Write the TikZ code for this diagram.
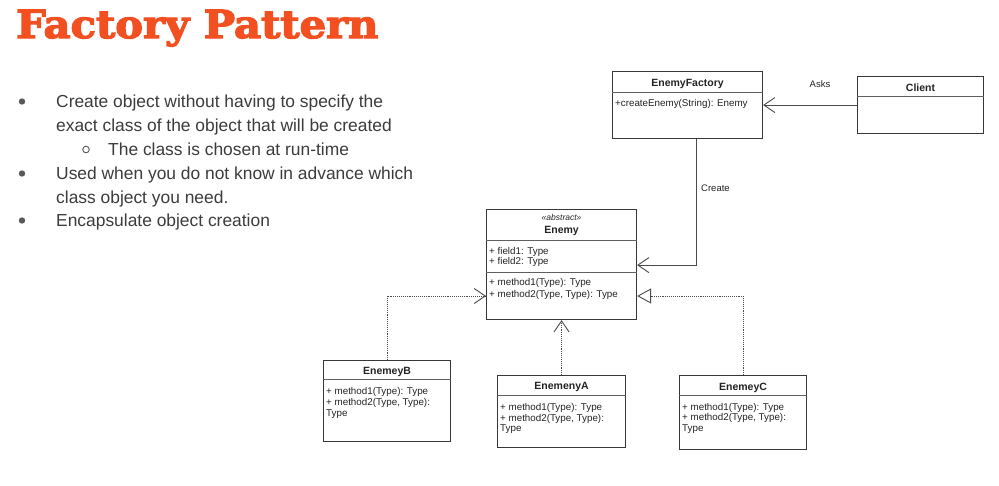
\documentclass[tikz,border=0pt]{standalone}
\usepackage{fontspec}
\setmainfont{Liberation Sans}
\newfontfamily\titlefont{DejaVu Serif}[FakeBold=3.2]
\usetikzlibrary{arrows.meta,calc}

\definecolor{titleorange}{RGB}{243,80,34}
\definecolor{bodytext}{RGB}{60,60,60}
\definecolor{umlline}{RGB}{55,55,55}
\definecolor{umltext}{RGB}{35,35,35}

\tikzset{
  umlbox/.style={draw=umlline, line width=1.1pt, rectangle, inner sep=0pt, anchor=north west},
  umlsep/.style={draw=umlline!80, line width=0.9pt},
  clsname/.style={font=\fontsize{10.5}{12}\selectfont\bfseries, text=umltext, inner sep=0pt, anchor=base},
  member/.style={font=\fontsize{9.8}{11}\selectfont, text=umltext, inner sep=0pt, anchor=base west},
  stereo/.style={font=\fontsize{8.5}{10}\selectfont\itshape, text=umltext, inner sep=0pt, anchor=base},
  linklabel/.style={font=\fontsize{9.5}{11}\selectfont, text=umltext, inner sep=0pt},
  assoc/.style={draw=umlline!90, line width=0.9pt, -{Straight Barb[length=11pt,width=15pt,line width=0.9pt]}},
  realize/.style={draw=umlline!90, line width=0.9pt, densely dotted},
  realizeopen/.style={realize, -{Straight Barb[length=11pt,width=15pt,line width=0.9pt]}},
  realizetri/.style={realize, -{Triangle[open,length=14pt,width=15pt,line width=0.9pt]}},
  bullettext/.style={font=\fontsize{17.4}{20}\selectfont, text=bodytext, inner sep=0pt, anchor=base west},
}

\begin{document}
\begin{tikzpicture}[x=1pt,y=-1pt]
\useasboundingbox[fill=white] (0,0) rectangle (999,485);

% heading
\node[font=\titlefont\bfseries\fontsize{41.5}{44}\selectfont, text=titleorange, inner sep=0pt, anchor=base west, xscale=1.005, yscale=0.93] (heading) at (16,38) {Factory Pattern};

% bullet list
\fill[bodytext!85] (22,101.5) circle (3.2pt);
\node[bullettext] (b1a) at (56,107) {Create object without having to specify the};
\node[bullettext] (b1b) at (56,131) {exact class of the object that will be created};
\draw[bodytext!85, line width=0.9pt] (86,149.5) circle (3.3pt);
\node[bullettext] (b1c) at (108,155) {The class is chosen at run-time};
\fill[bodytext!85] (22,173.5) circle (3.2pt);
\node[bullettext] (b2a) at (56,179) {Used when you do not know in advance which};
\node[bullettext] (b2b) at (56,203) {class object you need.};
\fill[bodytext!85] (22,220.5) circle (3.2pt);
\node[bullettext] (b3a) at (56,226.5) {Encapsulate object creation};

% EnemyFactory
\node[umlbox, minimum width=150pt, minimum height=67pt] (factory) at (612,71) {};
\draw[umlsep] ($(factory.north west)+(0,21)$) -- ($(factory.north east)+(0,21)$);
\node[clsname] (factoryname) at ($(factory.north)+(0,15)$) {EnemyFactory};
\node[member] (factorym1) at ($(factory.north west)+(3,35.5)$) {+createEnemy(String): Enemy};

% Client
\node[umlbox, minimum width=126pt, minimum height=57pt] (client) at (857,76) {};
\draw[umlsep] ($(client.north west)+(0,20)$) -- ($(client.north east)+(0,20)$);
\node[clsname] (clientname) at ($(client.north)+(0,15)$) {Client};

% Enemy
\node[umlbox, minimum width=150pt, minimum height=110pt] (enemy) at (486,209) {};
\draw[umlsep] ($(enemy.north west)+(0,31)$) -- ($(enemy.north east)+(0,31)$);
\draw[umlsep] ($(enemy.north west)+(0,63)$) -- ($(enemy.north east)+(0,63)$);
\node[stereo] (enemystereo) at ($(enemy.north)+(0,11)$) {«abstract»};
\node[clsname] (enemyname) at ($(enemy.north)+(0,24)$) {Enemy};
\node[member] (enemyf1) at ($(enemy.north west)+(3,45.5)$) {+ field1: Type};
\node[member] (enemyf2) at ($(enemy.north west)+(3,55.5)$) {+ field2: Type};
\node[member] (enemym1) at ($(enemy.north west)+(3,76)$) {+ method1(Type): Type};
\node[member] (enemym2) at ($(enemy.north west)+(3,88.5)$) {+ method2(Type, Type): Type};

% EnemeyB
\node[umlbox, minimum width=127pt, minimum height=81pt] (enemyb) at (323,360) {};
\draw[umlsep] ($(enemyb.north west)+(0,19)$) -- ($(enemyb.north east)+(0,19)$);
\node[clsname] (enemybname) at ($(enemyb.north)+(0,14)$) {EnemeyB};
\node[member] (enemybm1) at ($(enemyb.north west)+(3,34)$) {+ method1(Type): Type};
\node[member] (enemybm2) at ($(enemyb.north west)+(3,45)$) {+ method2(Type, Type):};
\node[member] (enemybm3) at ($(enemyb.north west)+(3,56)$) {Type};

% EnemenyA
\node[umlbox, minimum width=128pt, minimum height=72pt] (enemya) at (497,375) {};
\draw[umlsep] ($(enemya.north west)+(0,20)$) -- ($(enemya.north east)+(0,20)$);
\node[clsname] (enemyaname) at ($(enemya.north)+(0,14.5)$) {EnemenyA};
\node[member] (enemyam1) at ($(enemya.north west)+(3,35)$) {+ method1(Type): Type};
\node[member] (enemyam2) at ($(enemya.north west)+(3,46)$) {+ method2(Type, Type):};
\node[member] (enemyam3) at ($(enemya.north west)+(3,56.5)$) {Type};

% EnemeyC
\node[umlbox, minimum width=127pt, minimum height=74pt] (enemyc) at (679,375) {};
\draw[umlsep] ($(enemyc.north west)+(0,20)$) -- ($(enemyc.north east)+(0,20)$);
\node[clsname] (enemycname) at ($(enemyc.north)+(0,15)$) {EnemeyC};
\node[member] (enemycm1) at ($(enemyc.north west)+(3,35)$) {+ method1(Type): Type};
\node[member] (enemycm2) at ($(enemyc.north west)+(3,45.5)$) {+ method2(Type, Type):};
\node[member] (enemycm3) at ($(enemyc.north west)+(3,56)$) {Type};

% connectors
\draw[assoc] (client.west) -- (client.west -| factory.east);
\node[linklabel] (askslabel) at (820,84) {Asks};

\coordinate (createtop) at ($(factory.south)+(9,0)$);
\coordinate (createbend) at ($(createtop)+(0,126)$);
\draw[assoc] (createtop) -- (createbend) -- (createbend -| enemy.east);
\node[linklabel, anchor=west] (createlabel) at (701,188) {Create};

\coordinate (bbend) at ($(enemyb.north)+(0,-64)$);
\draw[realizeopen] (enemyb.north) -- (bbend) -- (bbend -| enemy.west);

\draw[realizeopen] (enemya.north) -- (enemy.south);

\coordinate (cbend) at ($(enemyc.north)+(0,-79)$);
\draw[realizetri] (enemyc.north) -- (cbend) -- (cbend -| enemy.east);
\end{tikzpicture}
\end{document}
